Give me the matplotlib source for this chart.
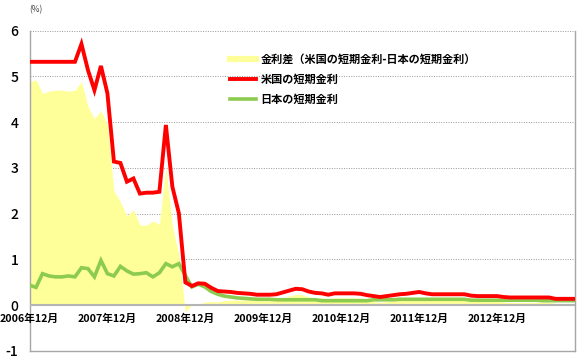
import matplotlib
matplotlib.use('Agg')
import matplotlib.pyplot as plt
from matplotlib.lines import Line2D

plt.rcParams['font.family'] = ['Noto Sans CJK JP', 'DejaVu Sans']

# 月次データ 2006年12月〜2013年12月
us_rate = [5.32, 5.32, 5.32, 5.32, 5.32, 5.32, 5.32, 5.32, 5.71, 5.14,
           4.70, 5.23, 4.63, 3.14, 3.11, 2.70, 2.77, 2.44, 2.46, 2.46,
           2.48, 3.94, 2.59, 2.01, 0.50, 0.42, 0.48, 0.47, 0.38, 0.31,
           0.30, 0.29, 0.27, 0.26, 0.25, 0.23, 0.23, 0.23, 0.24, 0.28,
           0.32, 0.36, 0.35, 0.30, 0.27, 0.26, 0.23, 0.26, 0.26, 0.26,
           0.26, 0.25, 0.22, 0.20, 0.18, 0.20, 0.22, 0.24, 0.25, 0.27,
           0.29, 0.26, 0.24, 0.24, 0.24, 0.24, 0.24, 0.24, 0.21, 0.20,
           0.20, 0.20, 0.20, 0.18, 0.17, 0.17, 0.17, 0.17, 0.17, 0.17,
           0.17, 0.14, 0.14, 0.14, 0.14]
jp_rate = [0.44, 0.39, 0.69, 0.64, 0.62, 0.62, 0.64, 0.62, 0.82, 0.80,
           0.62, 0.98, 0.69, 0.64, 0.85, 0.75, 0.68, 0.69, 0.71, 0.62,
           0.71, 0.91, 0.84, 0.91, 0.65, 0.40, 0.46, 0.40, 0.30, 0.24,
           0.20, 0.18, 0.16, 0.15, 0.14, 0.13, 0.13, 0.13, 0.12, 0.12,
           0.12, 0.12, 0.12, 0.12, 0.12, 0.10, 0.10, 0.10, 0.10, 0.10,
           0.10, 0.10, 0.10, 0.12, 0.12, 0.12, 0.12, 0.13, 0.13, 0.13,
           0.13, 0.13, 0.13, 0.13, 0.13, 0.13, 0.13, 0.13, 0.11, 0.11,
           0.11, 0.11, 0.11, 0.11, 0.11, 0.11, 0.11, 0.11, 0.11, 0.10,
           0.10, 0.10, 0.10, 0.10, 0.10]
spread = [4.88, 4.93, 4.63, 4.68, 4.70, 4.70, 4.68, 4.70, 4.89, 4.34,
          4.08, 4.25, 3.94, 2.50, 2.26, 1.95, 2.09, 1.75, 1.75, 1.84,
          1.77, 3.03, 1.75, 1.10, -0.15, 0.02, 0.02, 0.07, 0.08, 0.07,
          0.10, 0.11, 0.11, 0.11, 0.11, 0.10, 0.10, 0.10, 0.12, 0.16,
          0.20, 0.24, 0.23, 0.18, 0.15, 0.16, 0.13, 0.16, 0.16, 0.16,
          0.16, 0.15, 0.12, 0.08, 0.06, 0.08, 0.10, 0.11, 0.12, 0.14,
          0.16, 0.13, 0.11, 0.11, 0.11, 0.11, 0.11, 0.11, 0.10, 0.09,
          0.09, 0.09, 0.09, 0.07, 0.06, 0.06, 0.06, 0.06, 0.06, 0.07,
          0.07, 0.04, 0.04, 0.04, 0.04]
x = list(range(len(us_rate)))

tick_pos = [0, 12, 24, 36, 48, 60, 72]
tick_labels = ['2006年12月', '2007年12月', '2008年12月', '2009年12月',
               '2010年12月', '2011年12月', '2012年12月']

labels = ['金利差（米国の短期金利-日本の短期金利）', '米国の短期金利', '日本の短期金利']
c_spread = '#FFFF99'
c_us = '#FF0000'
c_jp = '#8CCB50'

fig = plt.figure(figsize=(5.8, 3.63), dpi=100)
ax = fig.add_axes([29.5 / 580, 1 - 351 / 363, (575 - 29.5) / 580, (351 - 30.7) / 363])

ax.fill_between(x, 0, spread, color=c_spread, lw=0, zorder=2)
ax.axhline(0, color='#B4B4B4', lw=1.5, zorder=3)
ax.plot(x, jp_rate, color=c_jp, lw=2.6, zorder=4, solid_joinstyle='miter')
ax.plot(x, us_rate, color=c_us, lw=2.8, zorder=5, solid_joinstyle='miter')

ax.set_xlim(0, len(x) - 1)
ax.set_ylim(-1, 6)
ax.set_yticks(range(-1, 7))
ax.set_yticklabels([str(v) for v in range(-1, 7)], fontsize=10, fontweight='medium')
ax.tick_params(axis='y', length=0, pad=8)
ax.set_xticks([])
for v in range(1, 7):
    ax.axhline(v, color='#999999', lw=0.7, ls=(0, (1, 1.5)), zorder=1)

for s in ['left', 'right', 'bottom']:
    ax.spines[s].set_color('#A6A6A6')
    ax.spines[s].set_linewidth(1.0)
ax.spines['top'].set_visible(False)

for p, t in zip(tick_pos, tick_labels):
    ax.annotate(t, xy=(p, 0), xytext=(0, -6), textcoords='offset points',
                ha='center', va='top', fontsize=7.7, fontweight='bold')

fig.text(29 / 580, 1 - 9.5 / 363, '(%)', fontsize=6, color='#404040', va='center')

handles = [Line2D([], [], color=c_spread, lw=4.5),
           Line2D([], [], color=c_us, lw=2.8),
           Line2D([], [], color=c_jp, lw=2.6)]
leg = ax.legend(handles, labels, loc='upper left', bbox_to_anchor=(224 / 580, 1 - 47 / 363),
                bbox_transform=fig.transFigure, frameon=False, fontsize=8,
                handlelength=2.4, handletextpad=0.4, labelspacing=0.65, borderpad=0)
for t in leg.get_texts():
    t.set_fontweight('bold')

fig.savefig('out.png', dpi=100)
